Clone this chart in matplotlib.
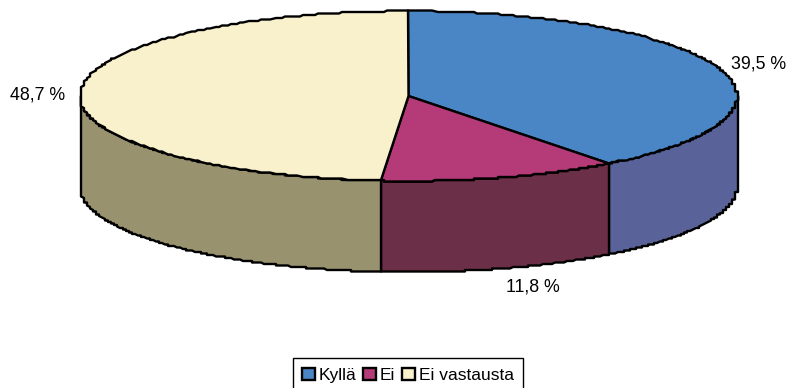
import numpy as np
import matplotlib
matplotlib.use("Agg")
import matplotlib.pyplot as plt
from matplotlib.patches import Patch, Polygon

categories = ["Kyllä", "Ei", "Ei vastausta"]
values = [39.5, 11.8, 48.7]
top_colors = ["#4A86C5", "#B43A78", "#F9F1CC"]
side_colors = ["#5A6399", "#6B2F47", "#98926F"]

cx, cy = 408.5, 96
rx, ry = 328.5, 85
depth = 91

plt.rcParams["font.family"] = ["Liberation Sans", "DejaVu Sans"]


def rim(a0, a1, dy=0):
    # a is degrees clockwise from 12 o'clock
    a = np.radians(np.linspace(a0, a1, 200))
    x = cx + rx * np.sin(a)
    y = cy - ry * np.cos(a) + dy
    # the original edge is a little stair-stepped
    x = np.round(x / 3) * 3
    y = np.round(y / 1.5) * 1.5
    return np.column_stack([x, y])


fig = plt.figure(figsize=(7.9, 3.88), dpi=100)
ax = fig.add_axes([0, 0, 1, 1])
ax.set_xlim(0, 790)
ax.set_ylim(388, 0)
ax.axis("off")

edges = np.concatenate([[0], np.cumsum(values)]) * 3.6

# side walls first, only the front half of the rim shows
for i in range(3):
    a0 = max(edges[i], 90)
    a1 = min(edges[i + 1], 270)
    if a1 <= a0:
        continue
    top = rim(a0, a1)
    bottom = rim(a0, a1, depth)[::-1]
    ax.add_patch(Polygon(np.vstack([top, bottom]), closed=True, facecolor=side_colors[i],
                         edgecolor="black", linewidth=1.7, joinstyle="round"))

for i in range(3):
    pts = np.vstack([[[cx, cy]], rim(edges[i], edges[i + 1])])
    ax.add_patch(Polygon(pts, closed=True, facecolor=top_colors[i],
                         edgecolor="black", linewidth=1.7, joinstyle="round"))

ax.text(758.5, 64, f"{values[0]:.1f} %".replace(".", ","), ha="center", va="center", fontsize=12.8)
ax.text(533, 287, f"{values[1]:.1f} %".replace(".", ","), ha="center", va="center", fontsize=12.8)
ax.text(38, 95, f"{values[2]:.1f} %".replace(".", ","), ha="center", va="center", fontsize=12.8)

handles = [Patch(facecolor=c, edgecolor="black", linewidth=1.7) for c in top_colors]
leg = ax.legend(handles, categories, loc="upper center", bbox_to_anchor=(408 / 790, 1 - 358 / 388),
                ncol=3, frameon=True, fancybox=False, framealpha=1, edgecolor="black",
                fontsize=12.5, handlelength=0.75, handleheight=0.75, handletextpad=0.2,
                columnspacing=0.4, borderpad=0.55, borderaxespad=0)
leg.get_frame().set_linewidth(1.0)

fig.savefig("out.png", dpi=100)
